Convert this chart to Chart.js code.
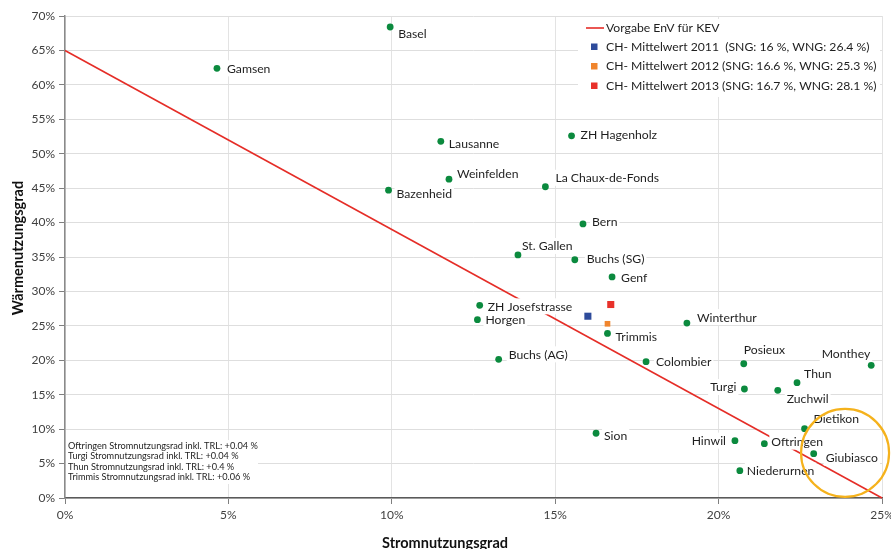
<!DOCTYPE html>
<html><head><meta charset="utf-8">
<script src="https://cdn.jsdelivr.net/npm/chart.js@4/dist/chart.umd.min.js"></script>
<style>html,body{margin:0;padding:0;background:#fff}#wrap{width:891px;height:549px}</style>
</head><body><div id="wrap"><canvas id="c" width="891" height="549"></canvas></div>
<script>
// ---- data ----
const plantNames = ['Gamsen','Basel','Lausanne','ZH Hagenholz','Weinfelden','Bazenheid','La Chaux-de-Fonds','Bern','St. Gallen','Buchs (SG)','Genf','ZH Josefstrasse','Horgen','Trimmis','Buchs (AG)','Winterthur','Colombier','Posieux','Monthey','Thun','Turgi','Zuchwil','Dietikon','Hinwil','Oftringen','Giubiasco','Niederurnen','Sion'];
const plantSNG = [4.65,9.95,11.5,15.5,11.75,9.9,14.7,15.85,13.86,15.6,16.74,12.69,12.62,16.6,13.27,19.03,17.78,20.77,24.67,22.4,20.79,21.81,22.63,20.5,21.4,22.91,20.65,16.25];
const plantWNG = [62.4,68.4,51.8,52.6,46.3,44.7,45.2,39.8,35.3,34.6,32.1,27.98,25.9,23.9,20.14,25.4,19.8,19.5,19.27,16.75,15.83,15.64,10.07,8.33,7.89,6.44,3.97,9.4];
const meanYears = ['2011','2012','2013'];
const meanSNG = [16.0,16.6,16.7];
const meanWNG = [26.4,25.3,28.1];
const meanLabels = ['CH- Mittelwert 2011  (SNG: 16 %, WNG: 26.4 %)','CH- Mittelwert 2012 (SNG: 16.6 %, WNG: 25.3 %)','CH- Mittelwert 2013 (SNG: 16.7 %, WNG: 28.1 %)'];
const targetLabel = 'Vorgabe EnV für KEV';
const targetSNG = [0,25];
const targetWNG = [65,0];
const highlightSNG = [23.87];
const highlightWNG = [6.54];
const xTickValues = [0,5,10,15,20,25];
const yTickValues = [0,5,10,15,20,25,30,35,40,45,50,55,60,65,70];
const xTitle = 'Stromnutzungsgrad';
const yTitle = 'Wärmenutzungsgrad';
const notes = ['Oftringen Stromnutzungsrad inkl. TRL: +0.04 %','Turgi Stromnutzungsrad inkl. TRL: +0.04 %','Thun Stromnutzungsrad inkl. TRL: +0.4 %','Trimmis Stromnutzungsrad inkl. TRL: +0.06 %'];

// ---- styling / label placement (pixels relative to point) ----
const labelPlacement = [[10,0,'l'],[8,7,'l'],[8,2,'l'],[9,-1,'l'],[8,-6,'l'],[8,3,'l'],[10,-9,'l'],[9,-2,'l'],[4,-9,'l'],[12,-1,'l'],[9,1,'l'],[8,1,'l'],[8,0,'l'],[8,3,'l'],[10,-5,'l'],[10,-6,'l'],[10,0,'l'],[0,-14,'l'],[-1,-12,'r'],[7,-9,'l'],[-8,-2,'r'],[9,8,'l'],[9,-10,'l'],[-9,0,'r'],[7,-2,'l'],[12,4,'l'],[7,0,'l'],[8,2,'l']];
const FONT = 'Lato, "DejaVu Sans", sans-serif';
const GREEN = '#0b8a3e', LINE_RED = '#e52d27';
const meanColors = ['#2e4b9b','#f0852d','#e8312a'];
const meanSizes = [5,4,5];

const datasets = [];
datasets.push({type:'line', label: targetLabel, data: targetSNG.map((x,i)=>({x, y: targetWNG[i]})),
  borderColor: LINE_RED, borderWidth: 1.6, pointRadius: 0, fill:false, order: 10, clip: false});
datasets.push({label:'plants', data: plantSNG.map((x,i)=>({x, y: plantWNG[i]})),
  backgroundColor: GREEN, borderColor: GREEN, pointRadius: 3.4, borderWidth: 0, order: 2});
meanYears.forEach((yr,i)=>{
  datasets.push({label: meanLabels[i], data:[{x: meanSNG[i], y: meanWNG[i]}], pointStyle:'rect',
    backgroundColor: meanColors[i], borderColor: meanColors[i], borderWidth:0, pointRadius: meanSizes[i], order: 1});
});
datasets.push({label:'highlight', data: highlightSNG.map((x,i)=>({x, y: highlightWNG[i]})), pointRadius: 44,
  backgroundColor:'rgba(0,0,0,0)', borderColor:'#f5b21c', borderWidth: 2.2, order: 0, clip: false});

const decor = {
  id:'decor',
  afterDatasetDraw(chart, args){
    if (args.index !== 0) return;
    const ctx = chart.ctx, xs = chart.scales.x, ys = chart.scales.y;
    ctx.save();
    ctx.font = '12.2px ' + FONT;
    ctx.textBaseline = 'middle';
    plantNames.forEach((n,i)=>{
      const px = xs.getPixelForValue(plantSNG[i]), py = ys.getPixelForValue(plantWNG[i]);
      const [dx,dy,al] = labelPlacement[i];
      const w = ctx.measureText(n).width;
      const x0 = al === 'r' ? px + dx - w : px + dx;
      ctx.fillStyle = '#fff';
      ctx.fillRect(x0 - 2, py + dy - 8, w + 4, 16);
      ctx.fillStyle = '#1e1e1e';
      ctx.textAlign = 'left';
      ctx.fillText(n, x0, py + dy + 0.5);
    });
    // notes box
    ctx.font = '9.2px ' + FONT;
    const ca = chart.chartArea;
    ctx.fillStyle = '#fff';
    ctx.fillRect(ca.left + 1, 440, 192, 44);
    ctx.fillStyle = '#1e1e1e';
    notes.forEach((t,i)=> ctx.fillText(t, ca.left + 3, 446 + i*10.3));
    ctx.restore();
  },
  afterDatasetsDraw(chart){
    const ctx = chart.ctx;
    ctx.save();
    // legend
    ctx.fillStyle = '#fff';
    ctx.fillRect(578, 19, 302, 78);
    ctx.font = '12.2px ' + FONT;
    ctx.textBaseline = 'middle';
    ctx.textAlign = 'left';
    const rows = [28, 47, 66.5, 86];
    ctx.strokeStyle = LINE_RED; ctx.lineWidth = 1.6;
    ctx.beginPath(); ctx.moveTo(586, rows[0]); ctx.lineTo(604, rows[0]); ctx.stroke();
    ctx.fillStyle = '#1e1e1e';
    ctx.fillText(chart.data.datasets[0].label, 606, rows[0]);
    meanLabels.forEach((t,i)=>{
      ctx.fillStyle = meanColors[i];
      ctx.fillRect(591, rows[i+1]-3.5, 6.5, 6.5);
      ctx.fillStyle = '#1e1e1e';
      ctx.fillText(t, 606, rows[i+1]);
    });
    // axis titles
    ctx.font = 'bold 14.5px ' + FONT;
    ctx.textAlign = 'center';
    ctx.fillStyle = '#111';
    ctx.fillText(xTitle, 445, 543);
    ctx.translate(18, 248);
    ctx.rotate(-Math.PI/2);
    ctx.fillText(yTitle, 0, 0);
    ctx.restore();
  }
};

new Chart(document.getElementById('c'), {
  type:'scatter',
  data:{datasets},
  options:{
    responsive:false, animation:false, devicePixelRatio:1,
    layout:{autoPadding:false, padding:{top:16, right:9, left:0, bottom:0}},
    plugins:{legend:{display:false}, tooltip:{enabled:false}},
    scales:{
      x:{type:'linear', min:0, max:25,
        afterBuildTicks(s){ s.ticks = xTickValues.map(v=>({value:v})); },
        afterFit(s){ s.height = 51; s.paddingLeft = 0; s.paddingRight = 0; },
        ticks:{callback:v=>v+'%', font:{family:FONT, size:12}, color:'#404040', padding:4, maxRotation:0},
        grid:{color:'#e3e3e3', tickColor:'#7f7f7f', tickLength:6, lineWidth:1},
        border:{color:'#5a5a5a', width:1.5}},
      y:{type:'linear', min:0, max:70,
        afterBuildTicks(s){ s.ticks = yTickValues.map(v=>({value:v})); },
        afterFit(s){ s.width = 65; },
        ticks:{callback:v=>v+'%', font:{family:FONT, size:12}, color:'#404040', padding:4},
        grid:{color:'#dedede', tickColor:'#7f7f7f', tickLength:6, lineWidth:1},
        border:{color:'#8a8a8a', width:1.5}}
    }
  },
  plugins:[decor]
});
</script></body></html>
